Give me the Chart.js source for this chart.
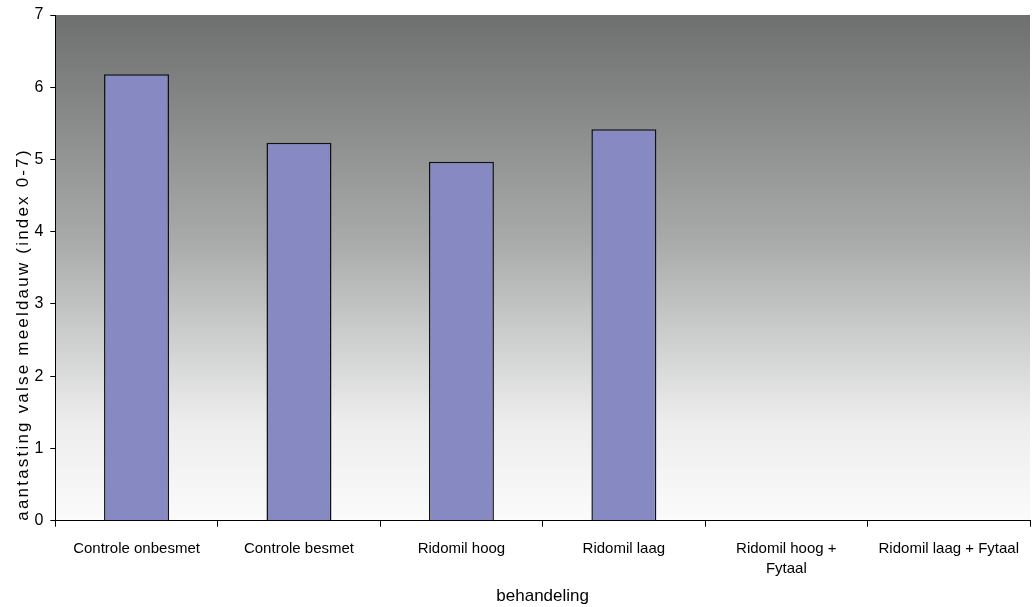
<!DOCTYPE html>
<html>
<head>
<meta charset="utf-8">
<script src="https://cdn.jsdelivr.net/npm/chart.js@4.4.1/dist/chart.umd.min.js"></script>
<style>
  html, body { margin: 0; padding: 0; background: #fff; }
  #wrap { width: 1032px; height: 607px; }
</style>
</head>
<body>
<div id="wrap"><canvas id="chart" width="1032" height="607"></canvas></div>
<script>
// --- data ---
const categories = [
    'Controle onbesmet',
    'Controle besmet',
    'Ridomil hoog',
    'Ridomil laag',
    ['Ridomil hoog +', 'Fytaal'],
    'Ridomil laag + Fytaal'
];
const aantasting = [6.18, 5.23, 4.97, 5.42, null, null];
const yTicks = [0, 1, 2, 3, 4, 5, 6, 7];

const FONT = 'Liberation Sans, Arial, Helvetica, sans-serif';

// grijs verloop achter het plotgebied
const gradientBg = {
    id: 'gradientBg',
    beforeDraw(chart) {
        const { ctx, chartArea: a } = chart;
        if (!a) return;
        const g = ctx.createLinearGradient(0, a.top, 0, a.bottom);
        g.addColorStop(0, '#6e7070');
        g.addColorStop(0.45, '#a9abab');
        g.addColorStop(0.8, '#ececec');
        g.addColorStop(1, '#fbfbfb');
        ctx.save();
        ctx.fillStyle = g;
        ctx.fillRect(a.left, a.top, a.right - a.left, a.bottom - a.top);
        ctx.restore();

        // y-as titel wat ruimer gespatieerd, zoals in het origineel
        const y = chart.scales.y;
        if (y && !y._spaced) {
            const orig = y.drawTitle;
            y.drawTitle = function () {
                const c = this.ctx;
                const prev = c.letterSpacing;
                c.letterSpacing = '2.2px';
                orig.call(this);
                c.letterSpacing = prev || '0px';
            };
            y._spaced = true;
        }
    }
};

const ctx = document.getElementById('chart').getContext('2d');
new Chart(ctx, {
    type: 'bar',
    data: {
        labels: categories,
        datasets: [{
            label: 'aantasting',
            data: aantasting,
            backgroundColor: '#8789c3',
            borderColor: '#111111',
            borderWidth: 1.5,
            borderSkipped: 'bottom',
            categoryPercentage: 1.0,
            barPercentage: 0.4
        }]
    },
    options: {
        responsive: false,
        animation: false,
        layout: { padding: { top: 6, right: 2, bottom: 0, left: 13 } },
        plugins: {
            legend: { display: false },
            tooltip: { enabled: false }
        },
        scales: {
            x: {
                offset: true,
                grid: {
                    offset: true,
                    drawOnChartArea: false,
                    drawTicks: true,
                    tickLength: 6,
                    color: '#000'
                },
                border: { color: '#000', width: 1 },
                ticks: {
                    color: '#000',
                    font: { family: FONT, size: 15, lineHeight: 1.33 },
                    maxRotation: 0,
                    autoSkip: false,
                    padding: 12
                },
                title: {
                    display: true,
                    text: 'behandeling',
                    color: '#000',
                    font: { family: FONT, size: 17 },
                    padding: { top: -4, bottom: 0 }
                }
            },
            y: {
                min: 0,
                max: 7,
                afterBuildTicks: axis => { axis.ticks = yTicks.map(v => ({ value: v })); },
                grid: {
                    drawOnChartArea: false,
                    drawTicks: true,
                    tickLength: 5,
                    color: '#000'
                },
                border: { color: '#000', width: 1 },
                ticks: {
                    color: '#000',
                    font: { family: FONT, size: 16, lineHeight: 1 },
                    padding: 7
                },
                title: {
                    display: true,
                    text: 'aantasting valse meeldauw (index 0-7)',
                    align: 'start',
                    color: '#000',
                    font: { family: FONT, size: 17 },
                    padding: { top: 0, bottom: -6 }
                }
            }
        }
    },
    plugins: [gradientBg]
});
</script>
</body>
</html>
